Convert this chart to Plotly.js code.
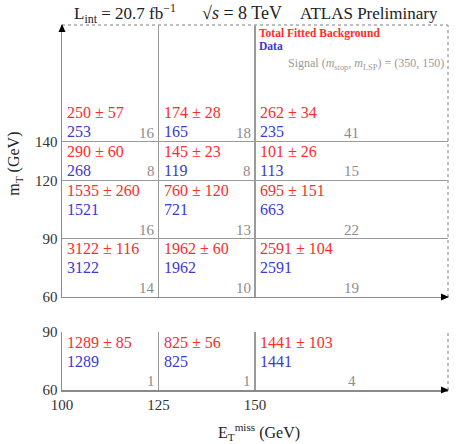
<!DOCTYPE html>
<html><head><meta charset="utf-8">
<script src="https://cdn.plot.ly/plotly-3.0.1.min.js"></script>
<style>html,body{margin:0;padding:0;background:#fff}</style>
</head><body>
<div id="chart" style="width:465px;height:444px"></div>
<script>
// ---- data ----
const xEdges = [100, 125, 150, 200];
const upperEdges = [60, 90, 120, 140, 200];
const lowerEdges = [60, 90];
const xTicks = [100, 125, 150];
const upperTicks = [60, 90, 120, 140];
const lowerTicks = [60, 90];
// upper panel rows, bottom (60-90) to top (140+)
const bkgUpper = [[3122, 1962, 2591], [1535, 760, 695], [290, 145, 101], [250, 174, 262]];
const errUpper = [[116, 60, 104], [260, 120, 151], [60, 23, 26], [57, 28, 34]];
const dataUpper = [[3122, 1962, 2591], [1521, 721, 663], [268, 119, 113], [253, 165, 235]];
const sigUpper = [[14, 10, 19], [16, 13, 22], [8, 8, 15], [16, 18, 41]];
// lower panel (single row 60-90)
const bkgLower = [1289, 825, 1441];
const errLower = [85, 56, 103];
const dataLower = [1289, 825, 1441];
const sigLower = [1, 1, 4];

const FONT = '"Liberation Serif", "DejaVu Serif", "Times New Roman", serif';
const RED = '#ff2b2b', BLUE = '#3a3ad0', GREY = '#8c8c8c', LINE = '#8a8a8a';
const UPPER_DOMAIN = [0.2548, 1], LOWER_DOMAIN = [0, 0.1589];

const ann = [];
function cell(yref, ylo, yhi, c, bkg, err, dat, sig, openTop) {
  const lab = openTop ? ylo + 20 : yhi;
  ann.push({xref: 'x', yref: yref, x: xEdges[c], y: lab, xanchor: 'left', yanchor: 'middle',
    xshift: 3, yshift: -10, showarrow: false, text: bkg + ' ± ' + err,
    font: {family: FONT, size: 16, color: RED}});
  ann.push({xref: 'x', yref: yref, x: xEdges[c], y: lab, xanchor: 'left', yanchor: 'middle',
    xshift: 3, yshift: -29, showarrow: false, text: String(dat),
    font: {family: FONT, size: 16, color: BLUE}});
  const last = c === xEdges.length - 2;
  ann.push({xref: 'x', yref: yref, x: last ? (xEdges[c] + xEdges[c + 1]) / 2 : xEdges[c + 1], y: ylo,
    xanchor: last ? 'center' : 'right', yanchor: 'middle', xshift: last ? 0 : -2, yshift: 9,
    showarrow: false, text: String(sig), font: {family: FONT, size: 15, color: GREY}});
}
for (let r = 0; r < bkgUpper.length; r++) {
  for (let c = 0; c < xEdges.length - 1; c++) {
    cell('y', upperEdges[r], upperEdges[r + 1], c, bkgUpper[r][c], errUpper[r][c], dataUpper[r][c], sigUpper[r][c], r === bkgUpper.length - 1);
  }
}
for (let c = 0; c < xEdges.length - 1; c++) {
  cell('y2', lowerEdges[0], lowerEdges[1], c, bkgLower[c], errLower[c], dataLower[c], sigLower[c], false);
}
const xMax = xEdges[xEdges.length - 1];
const yMax = upperEdges[upperEdges.length - 1];
// legend-like texts
ann.push({xref: 'x', yref: 'y', x: xEdges[2], y: yMax, xanchor: 'left', yanchor: 'middle', xshift: 2, yshift: -8,
  showarrow: false, text: '<b>Total Fitted Background</b>', font: {family: FONT, size: 11.5, color: RED}});
ann.push({xref: 'x', yref: 'y', x: xEdges[2], y: yMax, xanchor: 'left', yanchor: 'middle', xshift: 2, yshift: -21,
  showarrow: false, text: '<b>Data</b>', font: {family: FONT, size: 11.5, color: BLUE}});
ann.push({xref: 'x', yref: 'y', x: xMax, y: yMax, xanchor: 'right', yanchor: 'middle', xshift: -2, yshift: -39,
  showarrow: false, text: 'Signal (<i>m</i><sub>stop</sub>, <i>m</i><sub>LSP</sub>) = (350, 150)',
  font: {family: FONT, size: 12, color: '#9a9a9a'}});
// header
ann.push({xref: 'paper', yref: 'paper', x: 0.026, y: 1, yshift: 12, xanchor: 'left', yanchor: 'middle', showarrow: false,
  text: 'L<sub>int</sub> = 20.7 fb<sup>−1</sup>', font: {family: FONT, size: 17, color: '#222'}});
ann.push({xref: 'paper', yref: 'paper', x: 0.357, y: 1, yshift: 12, xanchor: 'left', yanchor: 'middle', showarrow: false,
  text: '√<i>s</i> = 8 TeV', font: {family: FONT, size: 18, color: '#222'}});
ann.push({xref: 'paper', yref: 'paper', x: 0.98, y: 1, yshift: 12, xanchor: 'right', yanchor: 'middle', showarrow: false,
  text: 'ATLAS Preliminary', font: {family: FONT, size: 17, color: '#222'}});
// axis titles
ann.push({xref: 'paper', yref: 'paper', x: 0, xshift: -47, y: 0.62, xanchor: 'center', yanchor: 'middle', textangle: -90,
  showarrow: false, text: 'm<sub>T</sub> (GeV)', font: {family: FONT, size: 16, color: '#222'}});
ann.push({xref: 'paper', yref: 'paper', x: 0.51, y: 0, yshift: -42, xanchor: 'center', yanchor: 'middle',
  showarrow: false, text: 'E<sub>T</sub><sup>miss</sup> (GeV)', font: {family: FONT, size: 16, color: '#222'}});

const dashed = {color: '#aaaaaa', width: 1.5, dash: 'dot'};
// arrowheads at the axis-frame corners (paper refs so they are not clipped)
const arrowHead = (xa, ya, path) => ({type: 'path', xref: 'paper', yref: 'paper', xsizemode: 'pixel', ysizemode: 'pixel',
  xanchor: xa, yanchor: ya, path: path, fillcolor: '#000', line: {width: 0}, layer: 'above'});
const shapes = [
  {type: 'line', xref: 'paper', yref: 'y domain', x0: 0, x1: 1, y0: 1, y1: 1, line: dashed},
  {type: 'line', xref: 'paper', yref: 'y domain', x0: 1, x1: 1, y0: 0, y1: 1, line: dashed},
  {type: 'line', xref: 'paper', yref: 'y2 domain', x0: 1, x1: 1, y0: 0, y1: 1, line: dashed},
  arrowHead(0, UPPER_DOMAIN[1], 'M -3.5,-7 L 0,1 L 3.5,-7 Z'),
  arrowHead(1, UPPER_DOMAIN[0], 'M -7,-3.5 L 1,0 L -7,3.5 Z'),
  arrowHead(1, LOWER_DOMAIN[0], 'M -7,-3.5 L 1,0 L -7,3.5 Z')
];

const axCommon = {showline: true, linecolor: LINE, linewidth: 1.5, showgrid: true, gridcolor: '#9a9a9a', gridwidth: 1.5,
  zeroline: false, ticks: '', tickfont: {family: FONT, size: 15, color: '#333'}, fixedrange: true};

const traces = [
  {type: 'scatter', x: [xEdges[0]], y: [upperEdges[0]], xaxis: 'x2', yaxis: 'y', mode: 'markers', marker: {opacity: 0}},
  {type: 'scatter', x: [xEdges[0]], y: [lowerEdges[0]], xaxis: 'x', yaxis: 'y2', mode: 'markers', marker: {opacity: 0}}
];
const layout = {
  width: 465, height: 444,
  margin: {l: 62, r: 17, t: 25, b: 54},
  paper_bgcolor: '#fff', plot_bgcolor: '#fff', showlegend: false,
  xaxis: Object.assign({}, axCommon, {range: [xEdges[0], xMax], tickvals: xTicks, anchor: 'y2'}),
  xaxis2: Object.assign({}, axCommon, {range: [xEdges[0], xMax], tickvals: xTicks, anchor: 'y', matches: 'x', showticklabels: false}),
  yaxis: Object.assign({}, axCommon, {range: [upperEdges[0], yMax], tickvals: upperTicks, domain: UPPER_DOMAIN, anchor: 'x2'}),
  yaxis2: Object.assign({}, axCommon, {range: [lowerEdges[0], lowerEdges[1]], tickvals: lowerTicks, domain: LOWER_DOMAIN, anchor: 'x'}),
  annotations: ann, shapes: shapes
};
Plotly.newPlot('chart', traces, layout, {displayModeBar: false, staticPlot: true});
</script>
</body></html>
